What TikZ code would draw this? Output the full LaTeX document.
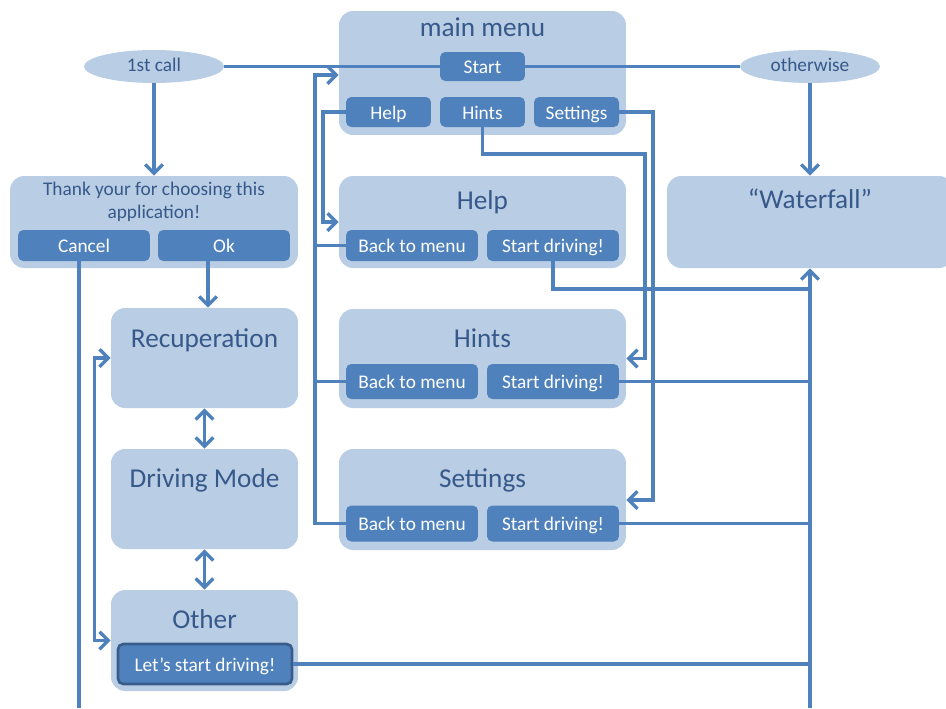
\documentclass[tikz,border=0pt]{standalone}
\usepackage{fontspec}
\setmainfont{Carlito}
\usetikzlibrary{arrows.meta, shapes.geometric, positioning}
\definecolor{boxfill}{HTML}{B9CDE5}
\definecolor{btnblue}{HTML}{4F81BD}
\definecolor{titleblue}{HTML}{36598A}
\definecolor{btnedge}{HTML}{385D8A}

\begin{document}
\begin{tikzpicture}[x=0.02cm, y=-0.02cm, >={Straight Barb[length=5pt,width=10pt]},
    panel/.style={fill=boxfill, rounded corners=8pt, inner sep=0pt},
    button/.style={fill=btnblue, rounded corners=3pt, inner sep=0pt, text=white,
      text height=8pt, text depth=0pt, font=\fontsize{11}{13}\selectfont},
    oval/.style={ellipse, fill=boxfill, inner sep=0pt, minimum width=2.8cm, minimum height=0.66cm,
      text=titleblue, text height=6.2pt, text depth=0pt, font=\fontsize{11}{13}\selectfont},
    heading/.style={text=titleblue, anchor=base, inner sep=0pt, font=\fontsize{15.5}{18}\selectfont},
    note/.style={text=titleblue, anchor=base, inner sep=0pt, font=\fontsize{11}{13}\selectfont},
    link/.style={draw=btnblue, line width=1.9pt},
    arr/.style={link, ->},
    dblarr/.style={link, <->}]
    \useasboundingbox (0,0) rectangle (946,708);

    % Main menu
    \node[panel, minimum width=5.74cm, minimum height=2.48cm] (menu) at (482.5,73) {};
    \node[heading] (menut) at (482.5,36) {main menu};
    \node[button, minimum width=1.7cm, minimum height=0.58cm] (startbtn) at (482.5,66.5) {Start};
    \node[button, minimum width=1.7cm, minimum height=0.6cm] (helpbtn) at (388.5,112) {Help};
    \node[button, minimum width=1.7cm, minimum height=0.6cm] (hintsbtn) at (482.5,112) {Hints};
    \node[button, minimum width=1.7cm, minimum height=0.6cm] (setbtn) at (576.5,112) {Settings};

    % Ovals
    \node[oval] (firstcall) at (154,66.5) {1st call};
    \node[oval] (otherwise) at (810,66.5) {otherwise};

    % Welcome box
    \node[panel, minimum width=5.76cm, minimum height=1.84cm] (thank) at (154,222) {};
    \node[note] (thank1) at (154,195) {Thank your for choosing this};
    \node[note] (thank2) at (154,218) {application!};
    \node[button, minimum width=2.64cm, minimum height=0.62cm] (cancelbtn) at (84,245.5) {Cancel};
    \node[button, minimum width=2.64cm, minimum height=0.62cm] (okbtn) at (224,245.5) {Ok};

    % Help, Hints, Settings
    \node[panel, minimum width=5.74cm, minimum height=1.84cm] (helpbox) at (482.5,222) {};
    \node[heading] (helpt) at (482.5,209) {Help};
    \node[button, minimum width=2.64cm, minimum height=0.62cm] (helpback) at (412,245.5) {Back to menu};
    \node[button, minimum width=2.64cm, minimum height=0.62cm] (helpgo) at (553,245.5) {Start driving!};

    \node[panel, minimum width=5.74cm, minimum height=1.98cm] (hintsbox) at (482.5,358.5) {};
    \node[heading] (hintst) at (482.5,347) {Hints};
    \node[button, minimum width=2.64cm, minimum height=0.7cm] (hintsback) at (412,381.5) {Back to menu};
    \node[button, minimum width=2.64cm, minimum height=0.7cm] (hintsgo) at (553,381.5) {Start driving!};

    \node[panel, minimum width=5.74cm, minimum height=2.02cm] (setbox) at (482.5,499.5) {};
    \node[heading] (sett) at (482.5,487) {Settings};
    \node[button, minimum width=2.64cm, minimum height=0.72cm] (setback) at (412,523.5) {Back to menu};
    \node[button, minimum width=2.64cm, minimum height=0.72cm] (setgo) at (553,523.5) {Start driving!};

    % Driving screens
    \node[panel, minimum width=3.74cm, minimum height=2cm] (recup) at (204.5,358) {};
    \node[heading] (recupt) at (204.5,347) {Recuperation};
    \node[panel, minimum width=3.74cm, minimum height=2cm] (driving) at (204.5,499) {};
    \node[heading] (drivingt) at (204.5,487) {Driving Mode};
    \node[panel, minimum width=3.74cm, minimum height=2.02cm] (otherbox) at (204.5,640.5) {};
    \node[heading] (othert) at (204.5,628) {Other};
    \node[button, draw=btnedge, line width=1.5pt, minimum width=3.48cm, minimum height=0.8cm] (letsgo) at (205,664) {Let’s start driving!};

    % Waterfall
    \node[panel, minimum width=5.72cm, minimum height=1.84cm] (waterfall) at (810,222) {};
    \node[heading] (waterfallt) at (810,208) {“Waterfall”};

    % Connectors
    \coordinate (cancelend) at (79,708);
    \coordinate (okdrop) at (208,0);
    \coordinate (backbus) at (315,75);
    \coordinate (helpbus) at (323,222);
    \coordinate (hintsbus) at (645,154);
    \coordinate (setbus) at (653,500);
    \coordinate (wfend) at (810,708);
    \coordinate (helpjoin) at (810,289);

    \draw[link] (firstcall.east) -- (startbtn.west);
    \draw[link] (startbtn.east) -- (otherwise.west);
    \draw[arr] (firstcall.south) -- (thank.north);
    \draw[arr] (otherwise.south) -- (waterfall.north);

    \draw[link] (cancelend |- cancelbtn.south) -- (cancelend);
    \draw[arr] (okdrop |- okbtn.south) -- (okdrop |- recup.north);
    \draw[dblarr] (recup.south) -- (driving.north);
    \draw[dblarr] (driving.south) -- (otherbox.north);
    \draw[dblarr] (recup.west) -- ++(-16,0) |- (otherbox.west);

    \draw[arr] (setback.west) -| (backbus) -- (backbus -| menu.west);
    \draw[link] (hintsback.west) -- (hintsback.west -| backbus);
    \draw[link] (helpback.west) -- (helpback.west -| backbus);

    \draw[arr] (helpbtn.west) -| (helpbus) -- (helpbus -| helpbox.west);
    \draw[arr] (hintsbtn.south) |- (hintsbus) |- (hintsbox.east);
    \draw[arr] (setbtn.east) -| (setbus) -- (setbus -| setbox.east);

    \draw[arr] (wfend) -- (waterfall.south);
    \draw[link] (helpgo.south) |- (helpjoin);
    \draw[link] (hintsgo.east) -- (hintsgo.east -| wfend);
    \draw[link] (setgo.east) -- (setgo.east -| wfend);
    \draw[link] (letsgo.east) -- (letsgo.east -| wfend);
\end{tikzpicture}
\end{document}
